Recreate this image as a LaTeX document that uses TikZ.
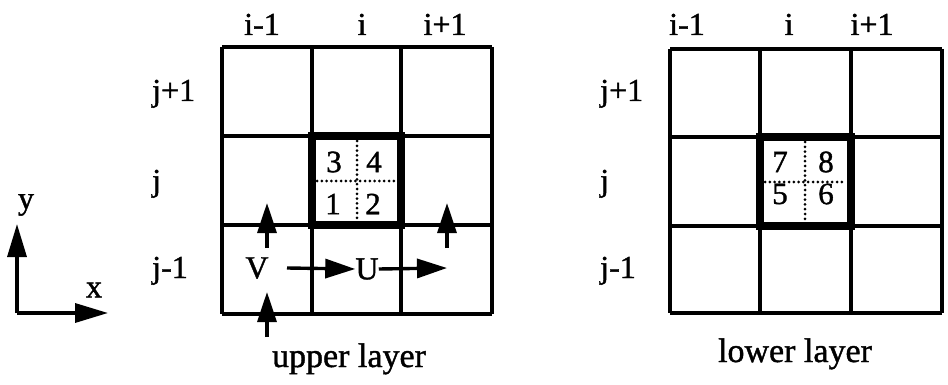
\documentclass[tikz,border=0pt]{standalone}
\usepackage{fontspec}
\setmainfont{Liberation Serif}[FakeBold=1.2]
\usetikzlibrary{arrows.meta}
\begin{document}
\begin{tikzpicture}[x=1pt,y=-1pt,
  gridline/.style={line width=3.4pt},
  cellbox/.style={line width=7.5pt},
  dotline/.style={line width=3pt, dash pattern=on 0pt off 4.8pt, line cap=round},
  lbl/.style={font=\fontsize{32}{34}\selectfont, inner sep=0pt},
  layerlbl/.style={font=\fontsize{34}{36}\selectfont, inner sep=0pt},
  digit/.style={font=\fontsize{31}{33}\selectfont, inner sep=0pt},
  vec/.style={line width=3.4pt, -{Triangle[length=30pt,width=19pt]}},
  axis/.style={line width=3.4pt, -{Triangle[length=33pt,width=19pt]}}]
\useasboundingbox (0,0) rectangle (948,385);

% ---------- coordinate axes ----------
\coordinate (O) at (17,313);
\coordinate (Ytip) at (17,224);
\coordinate (Xtip) at (108,313);
\draw[axis] (O) -- (Ytip);
\draw[axis] (O) -- (Xtip);
\node[lbl] (ylab) at (26,205) {y};
\node[lbl] (xlab) at (94,290) {x};

% ---------- upper layer grid ----------
\foreach \x in {222,312,401,492} \draw[gridline] (\x,47) -- (\x,314);
\foreach \y in {47,136,225,314} \draw[gridline] (222,\y) -- (492,\y);
\draw[cellbox] (312,136) rectangle (401,225);
\draw[dotline] (357,141) -- (357,221);
\draw[dotline] (317,181) -- (397,181);

\node[lbl, anchor=base] (ua) at (262,35) {i-1};
\node[lbl, anchor=base] (ub) at (362,35) {i};
\node[lbl, anchor=base] (uc) at (445,35) {i+1};
\node[lbl, anchor=base west] (ur1) at (152,101) {j+1};
\node[lbl, anchor=base west] (ur2) at (152,191) {j};
\node[lbl, anchor=base west] (ur3) at (152,278) {j-1};

\node[digit] (d3) at (334,162) {3};
\node[digit] (d4) at (374,162) {4};
\node[digit] (d1) at (333,204) {1};
\node[digit] (d2) at (373,204) {2};

% velocity points and arrows
\node[lbl] (V) at (257,268) {V};
\node[lbl] (U) at (367,269) {U};
\coordinate (vt) at (287,268);
\draw[vec] (vt) -- (U.west);
\coordinate (ut) at (447,268);
\draw[vec] (U.east) -- (ut);
\coordinate (a1) at (267,248);
\coordinate (a1t) at (267,203);
\draw[vec] (a1) -- (a1t);
\coordinate (a2) at (447,248);
\coordinate (a2t) at (447,203);
\draw[vec] (a2) -- (a2t);
\coordinate (a3) at (267,337);
\coordinate (a3t) at (267,292);
\draw[vec] (a3) -- (a3t);

\node[layerlbl, anchor=base] (upper) at (349,367) {upper layer};

% ---------- lower layer grid ----------
\foreach \x in {670,760,851,942} \draw[gridline] (\x,49) -- (\x,313);
\foreach \y in {49,137,226,313} \draw[gridline] (670,\y) -- (942,\y);
\draw[cellbox] (760,137) rectangle (851,226);
\draw[dotline] (805,142) -- (805,222);
\draw[dotline] (765,182) -- (846,182);

\node[lbl, anchor=base] (la) at (687,35) {i-1};
\node[lbl, anchor=base] (lb) at (789,35) {i};
\node[lbl, anchor=base] (lc) at (872,35) {i+1};
\node[lbl, anchor=base west] (lr1) at (600,101) {j+1};
\node[lbl, anchor=base west] (lr2) at (600,191) {j};
\node[lbl, anchor=base west] (lr3) at (600,278) {j-1};

\node[digit] (d7) at (780,162) {7};
\node[digit] (d8) at (826,162) {8};
\node[digit] (d5) at (780,194) {5};
\node[digit] (d6) at (826,194) {6};

\node[layerlbl, anchor=base] (lower) at (795,362) {lower layer};
\end{tikzpicture}
\end{document}
